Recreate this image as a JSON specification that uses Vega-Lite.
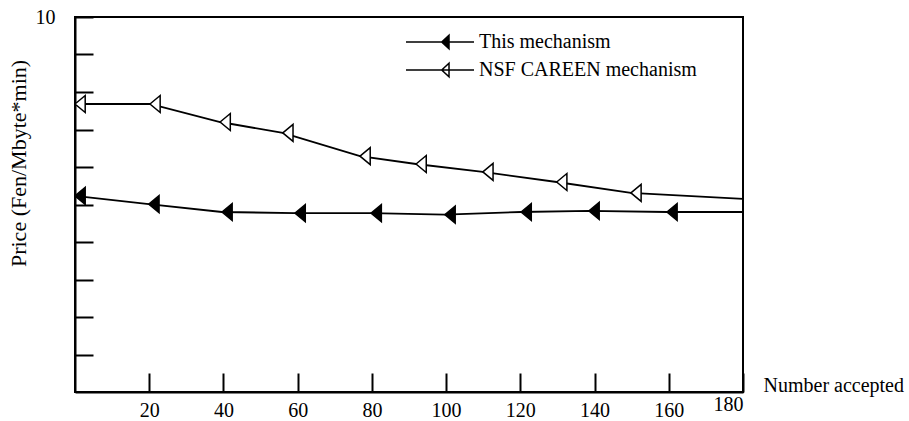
{
  "$schema": "https://vega.github.io/schema/vega-lite/v6.json",
  "width": 668,
  "height": 375,
  "autosize": "none",
  "padding": {"left": 75, "top": 17, "right": 166, "bottom": 29},
  "background": "white",
  "config": {
    "font": "Liberation Serif",
    "view": {"stroke": "black", "strokeWidth": 2},
    "axis": {
      "grid": false,
      "domainColor": "black",
      "domainWidth": 2,
      "tickColor": "black",
      "tickWidth": 2,
      "labelColor": "black",
      "labelFont": "Liberation Serif",
      "labelFontSize": 20,
      "titleColor": "black",
      "titleFont": "Liberation Serif",
      "titleFontSize": 20,
      "titleFontWeight": "normal"
    }
  },
  "data": {
    "values": [
      {"series": "This mechanism", "n": 0, "price": 5.23},
      {"series": "This mechanism", "n": 19.9, "price": 5.01},
      {"series": "This mechanism", "n": 39.6, "price": 4.8},
      {"series": "This mechanism", "n": 59.3, "price": 4.77},
      {"series": "This mechanism", "n": 79.8, "price": 4.77},
      {"series": "This mechanism", "n": 99.7, "price": 4.73},
      {"series": "This mechanism", "n": 120.2, "price": 4.8},
      {"series": "This mechanism", "n": 138.5, "price": 4.83},
      {"series": "This mechanism", "n": 159.5, "price": 4.8},
      {"series": "This mechanism", "n": 180, "price": 4.8},
      {"series": "NSF CAREEN mechanism", "n": 0, "price": 7.68},
      {"series": "NSF CAREEN mechanism", "n": 20.2, "price": 7.68},
      {"series": "NSF CAREEN mechanism", "n": 39.1, "price": 7.2},
      {"series": "NSF CAREEN mechanism", "n": 56.0, "price": 6.91},
      {"series": "NSF CAREEN mechanism", "n": 76.8, "price": 6.29},
      {"series": "NSF CAREEN mechanism", "n": 91.9, "price": 6.08},
      {"series": "NSF CAREEN mechanism", "n": 109.9, "price": 5.87},
      {"series": "NSF CAREEN mechanism", "n": 129.8, "price": 5.6},
      {"series": "NSF CAREEN mechanism", "n": 149.8, "price": 5.31},
      {"series": "NSF CAREEN mechanism", "n": 180, "price": 5.15}
    ]
  },
  "encoding": {
    "x": {
      "field": "n",
      "type": "quantitative",
      "scale": {"domain": [0, 180], "nice": false, "zero": false},
      "axis": {
        "values": [20, 40, 60, 80, 100, 120, 140, 160, 180],
        "tickSize": -19,
        "labelPadding": {"condition": {"test": "datum.value == 180", "value": 21}, "value": 27},
        "title": "Number accepted",
        "titleX": 688,
        "titleY": -7,
        "titleAlign": "left",
        "titleBaseline": "middle"
      }
    },
    "y": {
      "field": "price",
      "type": "quantitative",
      "scale": {"domain": [0, 10], "nice": false, "zero": true},
      "axis": {
        "values": [1, 2, 3, 4, 5, 6, 7, 8, 9, 10],
        "labelExpr": "datum.value == 10 ? '10' : ''",
        "tickSize": -18,
        "labelPadding": 38,
        "title": "Price (Fen/Mbyte*min)",
        "titleFontSize": 22,
        "titleX": -57,
        "titleY": 146,
        "titleAngle": -90,
        "titleAlign": "center",
        "titleBaseline": "middle"
      }
    }
  },
  "layer": [
    {
      "mark": {"type": "line", "color": "black", "strokeWidth": 1.8},
      "encoding": {"detail": {"field": "series", "type": "nominal"}}
    },
    {
      "transform": [{"filter": "datum.n < 180"}],
      "mark": {
        "type": "point",
        "shape": "M0,0L1.2,-1L1.2,1Z",
        "size": 289,
        "filled": true,
        "stroke": "black",
        "strokeWidth": 1.5,
        "opacity": 1
      },
      "encoding": {
        "fill": {
          "field": "series",
          "type": "nominal",
          "scale": {"domain": ["This mechanism", "NSF CAREEN mechanism"], "range": ["black", "white"]},
          "legend": {
            "orient": "none",
            "legendX": 355,
            "legendY": 15,
            "title": null,
            "padding": 0,
            "symbolType": "M-4,0L4,0M0.2,0L1.06,-0.79L1.06,0.79Z",
            "symbolSize": 289,
            "symbolStrokeColor": "black",
            "symbolStrokeWidth": 1.5,
            "labelFont": "Liberation Serif",
            "labelFontSize": 20,
            "labelColor": "black",
            "labelLimit": 0,
            "labelOffset": 29,
            "rowPadding": 8
          }
        }
      }
    }
  ]
}
